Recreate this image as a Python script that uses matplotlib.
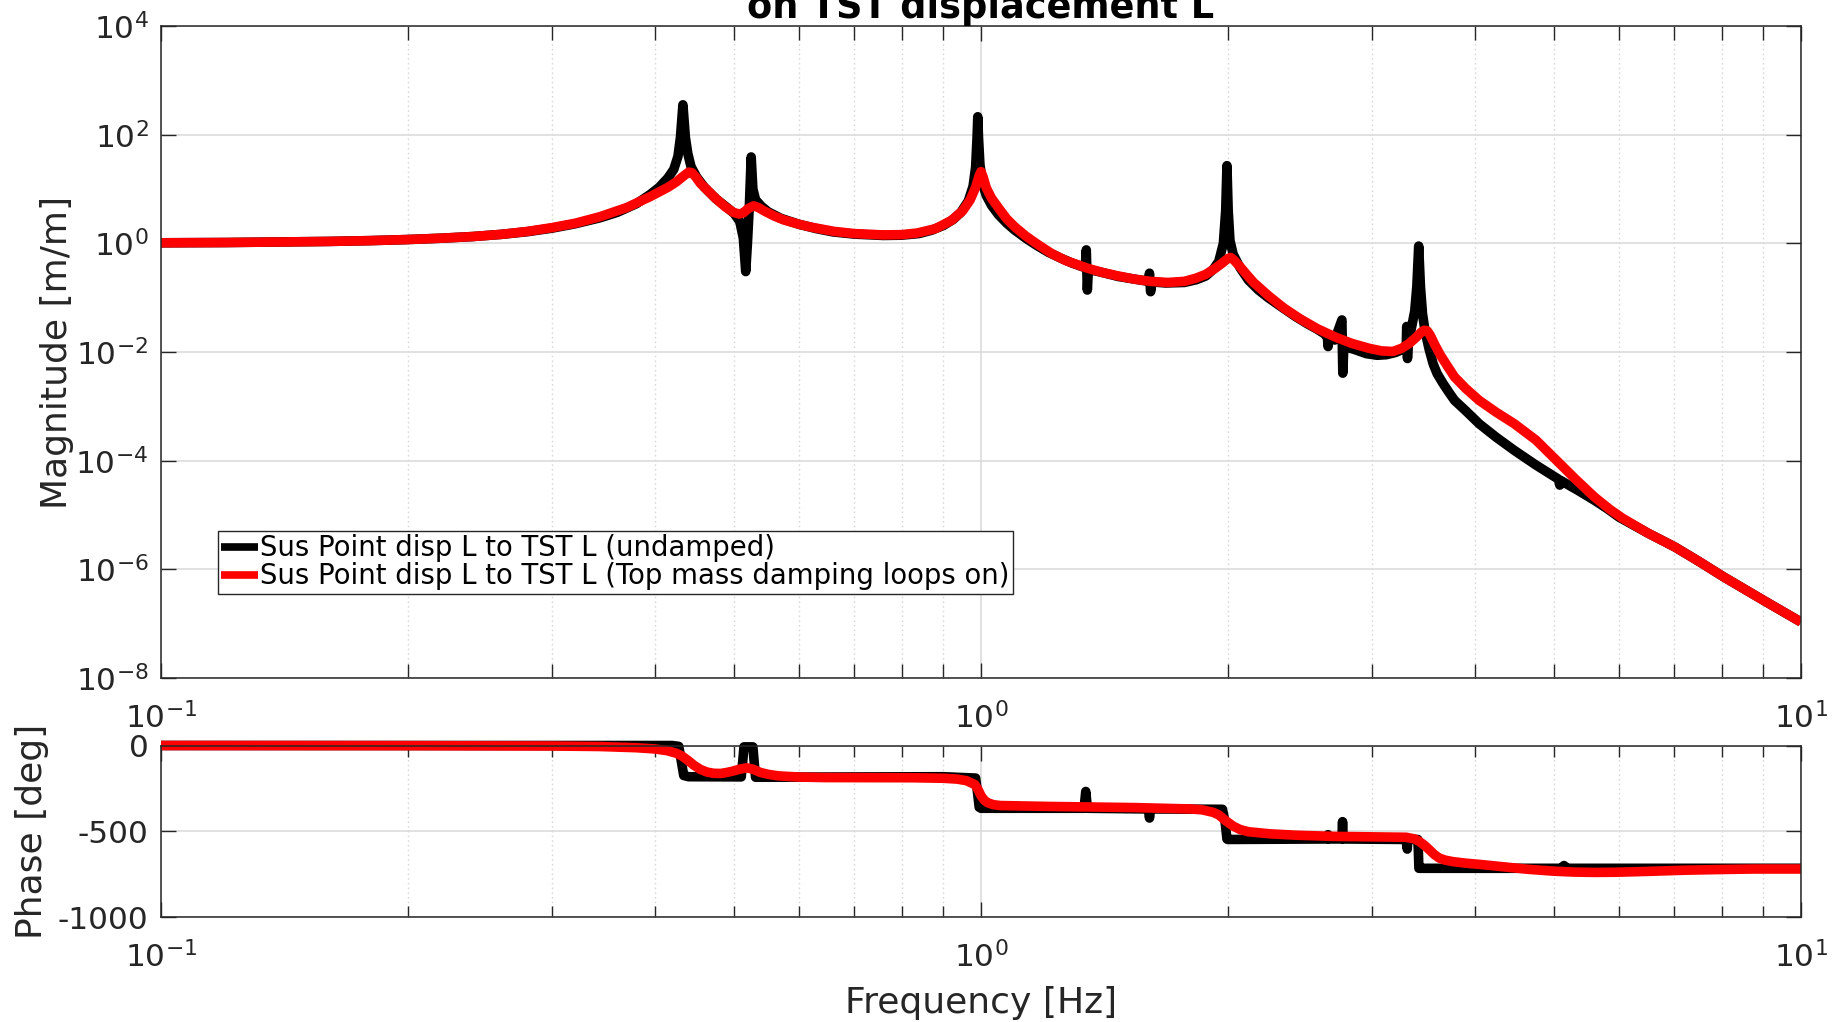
#!/usr/bin/env python3
"""Bode plot: Sus Point disp L -> TST L, undamped vs top mass damping loops on.
Values read off the reference picture (magnitudes stored as log10 exponents).

Output: out.png
"""
import numpy as np
import matplotlib
matplotlib.use("Agg")
import matplotlib.pyplot as plt
from matplotlib.ticker import LogLocator, FixedLocator, NullLocator, NullFormatter

OUT = "out.png"
BLACK, RED = "#000000", "#ff0000"
GRID, AXC = "#d9d9d9", "#262626"

# --- magnitude, undamped (freq in Hz, log10 of |H| in m/m) ---
f_mag_und = [0.10, 0.12, 0.14, 0.16, 0.18, 0.20, 0.22, 0.24, 0.26, 0.28,
             0.30, 0.32, 0.343, 0.36, 0.38, 0.395, 0.405, 0.415, 0.422, 0.427,
             0.430, 0.432, 0.433, 0.434, 0.436, 0.439, 0.443, 0.45, 0.46, 0.475,
             0.49, 0.50, 0.508, 0.513, 0.5165, 0.519, 0.522, 0.5245, 0.527, 0.531,
             0.54, 0.55, 0.57, 0.60, 0.63, 0.66, 0.70, 0.76, 0.80, 0.84,
             0.87, 0.90, 0.925, 0.945, 0.965, 0.978, 0.985, 0.989, 0.991, 0.993,
             0.997, 1.005, 1.015, 1.03, 1.05, 1.075, 1.10, 1.135, 1.17, 1.21,
             1.25, 1.29, 1.340, 1.344, 1.348, 1.352, 1.40, 1.47, 1.54, 1.600,
             1.605, 1.610, 1.616, 1.68, 1.77, 1.83, 1.88, 1.92, 1.95, 1.975,
             1.988, 1.995, 2.002, 2.012, 2.03, 2.07, 2.12, 2.18, 2.24, 2.34,
             2.42, 2.50, 2.57, 2.62, 2.645, 2.650, 2.655, 2.70, 2.755, 2.762,
             2.77, 2.85, 2.95, 3.04, 3.12, 3.20, 3.26, 3.30, 3.305, 3.312,
             3.32, 3.35, 3.38, 3.40, 3.418, 3.435, 3.455, 3.48, 3.52, 3.56,
             3.60, 3.66, 3.72, 3.78, 3.90, 4.05, 4.25, 4.47, 4.75, 5.06,
             5.08, 5.10, 5.35, 5.60, 5.80, 6.00, 6.50, 7.02, 7.50, 8.05,
             9.00, 10.0]
lg_mag_und = [0.01, 0.015, 0.025, 0.035, 0.05, 0.07, 0.095, 0.125, 0.165, 0.215,
              0.28, 0.36, 0.47, 0.57, 0.73, 0.90, 1.03, 1.20, 1.36, 1.60,
              1.95, 2.35, 2.55, 2.35, 1.95, 1.65, 1.41, 1.22, 1.03, 0.82,
              0.66, 0.55, 0.40, 0.10, -0.52, 0.00, 0.75, 1.59, 1.00, 0.80,
              0.68, 0.58, 0.46, 0.35, 0.27, 0.21, 0.17, 0.145, 0.15, 0.18,
              0.24, 0.33, 0.44, 0.57, 0.78, 1.05, 1.40, 1.95, 2.33, 1.95,
              1.45, 1.08, 0.88, 0.70, 0.53, 0.37, 0.24, 0.09, -0.04, -0.17,
              -0.27, -0.36, -0.45, -0.12, -0.86, -0.48, -0.53, -0.61, -0.66, -0.70,
              -0.55, -0.89, -0.71, -0.73, -0.72, -0.67, -0.60, -0.48, -0.33, 0.00,
              0.60, 1.43, 0.60, 0.05, -0.20, -0.45, -0.68, -0.86, -1.00, -1.20,
              -1.35, -1.48, -1.58, -1.66, -1.72, -1.90, -1.73, -1.78, -1.41, -2.39,
              -1.90, -1.95, -2.03, -2.06, -2.05, -2.01, -1.96, -1.95, -1.53, -2.12,
              -1.85, -1.55, -1.25, -0.80, -0.05, -0.80, -1.30, -1.62, -1.95, -2.22,
              -2.40, -2.58, -2.74, -2.89, -3.08, -3.32, -3.57, -3.81, -4.08, -4.34,
              -4.45, -4.37, -4.55, -4.73, -4.88, -5.04, -5.33, -5.59, -5.85, -6.14,
              -6.57, -6.97]

# --- magnitude, top mass damping loops on ---
f_mag_dmp = [0.10, 0.12, 0.14, 0.16, 0.18, 0.20, 0.22, 0.24, 0.26, 0.28,
             0.30, 0.32, 0.343, 0.37, 0.395, 0.415, 0.425, 0.433, 0.440, 0.444,
             0.449, 0.455, 0.465, 0.476, 0.488, 0.499, 0.507, 0.513, 0.520, 0.528,
             0.535, 0.545, 0.56, 0.575, 0.60, 0.62, 0.662, 0.70, 0.76, 0.80,
             0.836, 0.88, 0.92, 0.95, 0.97, 0.985, 0.995, 1.000, 1.006, 1.015,
             1.03, 1.053, 1.075, 1.10, 1.135, 1.17, 1.22, 1.27, 1.35, 1.41,
             1.47, 1.54, 1.61, 1.69, 1.77, 1.83, 1.88, 1.93, 1.97, 2.00,
             2.016, 2.035, 2.07, 2.11, 2.15, 2.24, 2.34, 2.45, 2.57, 2.70,
             2.83, 2.97, 3.08, 3.18, 3.26, 3.33, 3.40, 3.44, 3.47, 3.50,
             3.53, 3.58, 3.63, 3.72, 3.78, 3.90, 4.05, 4.25, 4.47, 4.75,
             5.03, 5.30, 5.60, 5.85, 6.06, 6.50, 7.02, 7.50, 8.05, 9.00,
             10.0]
lg_mag_dmp = [0.01, 0.015, 0.025, 0.035, 0.05, 0.07, 0.095, 0.125, 0.165, 0.22,
              0.29, 0.37, 0.49, 0.66, 0.86, 1.03, 1.13, 1.23, 1.31, 1.30,
              1.22, 1.10, 0.96, 0.81, 0.67, 0.57, 0.54, 0.56, 0.64, 0.69,
              0.66, 0.59, 0.50, 0.43, 0.35, 0.30, 0.22, 0.18, 0.155, 0.16,
              0.19, 0.27, 0.42, 0.60, 0.80, 1.03, 1.25, 1.32, 1.22, 1.02,
              0.83, 0.63, 0.45, 0.30, 0.13, -0.01, -0.19, -0.32, -0.46, -0.54,
              -0.60, -0.66, -0.70, -0.72, -0.70, -0.64, -0.57, -0.46, -0.36, -0.28,
              -0.26, -0.31, -0.43, -0.58, -0.72, -0.96, -1.19, -1.39, -1.57, -1.72,
              -1.84, -1.93, -1.98, -1.99, -1.93, -1.84, -1.72, -1.64, -1.60, -1.61,
              -1.69, -1.88, -2.05, -2.30, -2.46, -2.67, -2.89, -3.11, -3.32, -3.62,
              -3.99, -4.33, -4.67, -4.90, -5.06, -5.33, -5.59, -5.85, -6.14, -6.57,
              -6.97]

# --- phase, undamped (deg) ---
f_ph_und = [0.10, 0.42, 0.428, 0.431, 0.434, 0.44, 0.510, 0.512, 0.514, 0.527,
            0.529, 0.531, 0.90, 0.985, 0.990, 0.995, 1.00, 1.335, 1.338, 1.342,
            1.346, 1.35, 1.600, 1.605, 1.610, 1.97, 1.985, 1.995, 2.00, 2.645,
            2.650, 2.655, 2.755, 2.760, 2.765, 3.300, 3.305, 3.310, 3.315, 3.41,
            3.415, 3.42, 3.43, 5.10, 5.14, 5.18, 10.0]
ph_und = [0, 0, -5, -90, -175, -182, -183, -100, -8, -8,
          -100, -185, -182, -190, -270, -360, -366, -366, -330, -268,
          -330, -366, -370, -423, -370, -372, -450, -545, -548, -545,
          -520, -545, -545, -444, -545, -548, -580, -604, -548, -548,
          -620, -716, -716, -716, -700, -716, -716]

# --- phase, top mass damping loops on (deg) ---
f_ph_dmp = [0.10, 0.20, 0.30, 0.343, 0.38, 0.40, 0.414, 0.425, 0.432, 0.44,
            0.4465, 0.455, 0.4635, 0.472, 0.4812, 0.49, 0.4994, 0.508, 0.518, 0.527,
            0.538, 0.55, 0.566, 0.60, 0.643, 0.823, 0.90, 0.935, 0.96, 0.983,
            0.993, 1.00, 1.009, 1.018, 1.035, 1.056, 1.20, 1.54, 1.80, 1.86,
            1.92, 1.95, 1.99, 2.03, 2.07, 2.12, 2.25, 2.42, 2.70, 3.30,
            3.38, 3.42, 3.47, 3.52, 3.57, 3.62, 3.68, 3.76, 3.90, 4.09,
            4.35, 4.65, 5.00, 5.28, 5.60, 5.94, 6.50, 7.23, 8.00, 8.77,
            10.0]
ph_dmp = [0, -1, -3, -6, -13, -20, -30, -45, -62, -90,
          -115, -140, -155, -162, -163, -157, -148, -138, -130, -138,
          -157, -168, -177, -184, -187, -188, -191, -196, -205, -228,
          -262, -293, -318, -333, -345, -350, -355, -362, -370, -375,
          -390, -405, -440, -470, -490, -503, -515, -523, -530, -535,
          -545, -558, -580, -607, -635, -656, -668, -677, -686, -695,
          -708, -722, -733, -738, -740, -739, -734, -727, -723, -720,
          -720]

LABELS = ["Sus Point disp L to TST L (undamped)",
          "Sus Point disp L to TST L (Top mass damping loops on)"]
MAG_TICKS = [1e-8, 1e-6, 1e-4, 1e-2, 1e0, 1e2, 1e4]
PH_TICKS = [-1000, -500, 0]


def style_axes(ax, major_len, minor_len):
    ax.set_xscale("log")
    ax.set_xlim(0.1, 10)
    ax.xaxis.set_major_locator(LogLocator(base=10))
    ax.xaxis.set_minor_locator(LogLocator(base=10, subs=np.arange(2, 10)))
    ax.xaxis.set_minor_formatter(NullFormatter())
    ax.tick_params(which="both", direction="in", top=True, right=True,
                   color=AXC, width=1.0, labelsize=22.5, labelcolor="#262626")
    ax.tick_params(which="major", length=major_len)
    ax.tick_params(which="minor", length=minor_len)
    ax.grid(which="major", color=GRID, lw=1.1, ls="-")
    ax.grid(which="minor", axis="x", color=GRID, lw=1.0, ls=(0, (1.2, 2.2)))
    for s in ax.spines.values():
        s.set_color(AXC)
        s.set_linewidth(1.1)


def main():
    plt.rcParams["axes.unicode_minus"] = False
    W, H = 1846, 1022
    fig = plt.figure(figsize=(W / 100, H / 100), dpi=100)

    L, R = 161, 1801
    ax1 = fig.add_axes([L / W, 1 - 678 / H, (R - L) / W, (678 - 26) / H])
    ax2 = fig.add_axes([L / W, 1 - 917 / H, (R - L) / W, (917 - 745.5) / H])

    lw = 6.9
    kw = dict(solid_joinstyle="round", solid_capstyle="butt")
    l1, = ax1.plot(f_mag_und, np.power(10.0, lg_mag_und), color=BLACK, lw=lw, **kw)
    l2, = ax1.plot(f_mag_dmp, np.power(10.0, lg_mag_dmp), color=RED, lw=lw, **kw)
    ax2.plot(f_ph_und, ph_und, color=BLACK, lw=lw, clip_on=False, **kw)
    ax2.plot(f_ph_dmp, ph_dmp, color=RED, lw=lw, clip_on=False, **kw)

    # magnitude axes
    style_axes(ax1, 11, 10)
    ax1.set_yscale("log")
    ax1.set_ylim(1e-8, 1e4)
    ax1.yaxis.set_major_locator(FixedLocator(MAG_TICKS))
    ax1.yaxis.set_minor_locator(NullLocator())
    ax1.tick_params(axis="x", pad=17)
    ax1.tick_params(axis="y", pad=9)
    ax1.set_ylabel("Magnitude [m/m]", fontsize=26, color="#262626", va="center")
    ax1.yaxis.set_label_coords(-0.0634, 0.5)

    # phase axes
    style_axes(ax2, 11, 8)
    ax2.set_ylim(-1000, 0)
    ax2.yaxis.set_major_locator(FixedLocator(PH_TICKS))
    ax2.yaxis.set_minor_locator(NullLocator())
    ax2.tick_params(axis="x", pad=17)
    ax2.tick_params(axis="y", pad=9)
    ax2.set_ylabel("Phase [deg]", fontsize=26, color="#262626", va="center")
    ax2.yaxis.set_label_coords(-0.0787, 0.5)
    ax2.set_xlabel("Frequency [Hz]", fontsize=26, color="#262626", va="center")
    ax2.xaxis.set_label_coords(0.5, -0.50)

    leg = ax1.legend([l1, l2], LABELS, loc="upper left",
                     bbox_to_anchor=((218 - L) / (R - L), (678 - 531) / 652),
                     fontsize=19.8, frameon=True, fancybox=False, framealpha=1,
                     edgecolor=AXC, borderpad=0.12, labelspacing=0.0,
                     handlelength=1.35, handletextpad=0.05, borderaxespad=0)
    leg.get_frame().set_linewidth(1.0)
    for ln in leg.get_lines():
        ln.set_linewidth(5.5)
        ln.set_solid_capstyle("butt")

    fig.text((L + R) / 2 / W, 1 - 18.5 / H, "on TST displacement L",
             ha="center", va="baseline", fontsize=26.4, fontweight="bold")

    fig.savefig(OUT, dpi=100)
    print("OK ->", OUT)


if __name__ == "__main__":
    main()
